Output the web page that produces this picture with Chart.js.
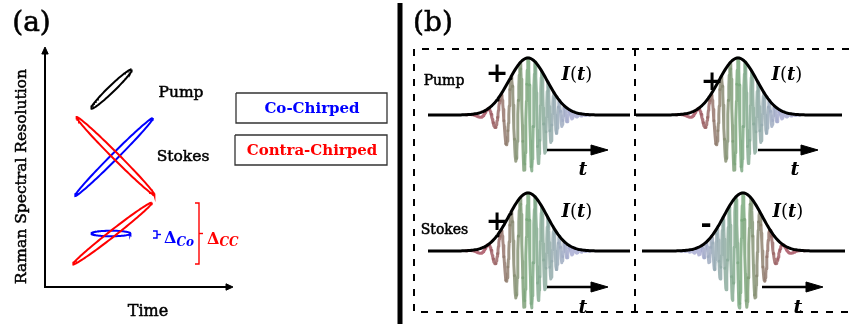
<!DOCTYPE html>
<html>
<head>
<meta charset="utf-8">
<script src="https://cdn.jsdelivr.net/npm/chart.js@4.4.1/dist/chart.umd.min.js"></script>
<style>
  html, body { margin: 0; padding: 0; background: #fff; }
  #wrap { width: 849px; height: 324px; }
</style>
</head>
<body>
<div id="wrap"><canvas id="c" width="849" height="324"></canvas></div>
<script>
// the whole figure lives on one linear x/y plane measured in picture units (0..849 x 0..324)
const W = 849, H = 324;

// --- panel (a): time / frequency ellipses ---
const ellipseNames = ['pump', 'stokesContra', 'stokesCo', 'overlapContra', 'overlapCo'];
const ellipseCx    = [111.5, 115.5, 114.0, 112.5, 111.0];
const ellipseCy    = [89.0, 156.0, 157.0, 233.5, 233.5];
const ellipseA     = [28.0, 55.0, 55.0, 50.0, 19.5];
const ellipseB     = [3.2, 3.2, 3.2, 3.2, 2.8];
const ellipseAngle = [-44, 45, -45, -38, 0];
const ellipseColor = ['#000000', '#ff0000', '#0000ff', '#ff0000', '#0000ff'];

// axis corner of panel (a) and arrow tips
const axisOrigin = [45, 287];
const axisTipY = 47;
const axisTipX = 233;

// brackets marking the spectral widths  [x, top, bottom]
const bracketX      = [157, 199];
const bracketTop    = [231, 203];
const bracketBottom = [238, 264];
const bracketColor  = ['#0000ff', '#ff0000'];

// --- panel (b): chirped pulses ---
const pulseCenter = [528, 738, 528, 743];
const pulseBase   = [115, 115, 251, 251];
const pulseHeight = [57, 57, 58, 58];
const pulseSigma  = [19, 19, 19, 19];
const pulseFrom   = [428, 636, 428, 642];
const pulseTo     = [630, 842, 630, 845];
const pulseChirp  = [1, 1, 1, -1];   // +1 up-chirp, -1 down-chirp
const pulseSign   = ['+', '+', '+', '-'];

// time arrows under each pulse  [start, end, y]
const tArrowFrom = [547, 758, 547, 762];
const tArrowTo   = [608, 818, 608, 823];
const tArrowY    = [150, 150, 287, 287];

// dashed frame
const frameLeft = 414, frameTop = 49, frameBottom = 312, frameMid = 635;
const dividerX = 400;

// ---------- helpers ----------
function ellipsePoints(i) {
  const pts = [];
  const th = ellipseAngle[i] * Math.PI / 180;
  for (let k = 0; k <= 120; k++) {
    const u = k / 120 * Math.PI * 2;
    const ex = ellipseA[i] * Math.cos(u), ey = ellipseB[i] * Math.sin(u);
    pts.push({ x: ellipseCx[i] + ex * Math.cos(th) - ey * Math.sin(th),
               y: ellipseCy[i] + ex * Math.sin(th) + ey * Math.cos(th) });
  }
  return pts;
}

function envelope(i, t) {
  return pulseHeight[i] * Math.exp(-t * t / (2 * pulseSigma[i] * pulseSigma[i]));
}

function gaussPoints(i) {
  const pts = [];
  for (let x = pulseFrom[i]; x <= pulseTo[i]; x += 1) {
    pts.push({ x: x, y: pulseBase[i] - envelope(i, x - pulseCenter[i]) });
  }
  return pts;
}

function wavePoints(i) {
  const pts = [];
  const k0 = 2 * Math.PI / 7.5, c = 0.0053 * pulseChirp[i];
  for (let t = -62; t <= 62; t += 0.4) {
    const ph = k0 * t + c * t * t;
    pts.push({ x: pulseCenter[i] + t, y: pulseBase[i] - envelope(i, t) * Math.cos(ph) });
  }
  return pts;
}

// red (slow) -> green -> blue-grey (fast)
const waveStops = [[168, 82, 98], [122, 170, 124], [168, 172, 210]];
function waveColor(t, chirp) {
  let s = Math.max(-1, Math.min(1, (t * chirp) / 42));
  s = Math.round(s * 20) / 20;
  const a = s < 0 ? waveStops[0] : waveStops[1];
  const b = s < 0 ? waveStops[1] : waveStops[2];
  const f = s < 0 ? s + 1 : s;
  const mix = a.map((v, j) => Math.round(v + (b[j] - v) * f));
  return `rgba(${mix[0]},${mix[1]},${mix[2]},0.85)`;
}

function arrowHead(tx, ty, dx, dy, len, hw) {
  const n = Math.hypot(dx, dy), ux = dx / n, uy = dy / n;
  const bx = tx - ux * len, by = ty - uy * len;
  return [{ x: tx, y: ty }, { x: bx - uy * hw, y: by + ux * hw },
          { x: bx + uy * hw, y: by - ux * hw }, { x: tx, y: ty }];
}

function line(pts, color, width, extra) {
  return Object.assign({ data: pts, showLine: true, borderColor: color, borderWidth: width,
    pointRadius: 0, fill: false, clip: false, tension: 0, order: 1 }, extra || {});
}
function head(pts, color) {
  return line(pts, color, 1, { fill: 'shape', backgroundColor: color, order: 0 });
}

// ---------- datasets ----------
const datasets = [];

// panel (a) axes
datasets.push(line([{ x: axisOrigin[0], y: axisOrigin[1] }, { x: axisOrigin[0], y: axisTipY + 5 }], '#000', 2));
datasets.push(head(arrowHead(axisOrigin[0], axisTipY, 0, -1, 7, 3.2), '#000'));
datasets.push(line([{ x: axisOrigin[0] - 1, y: axisOrigin[1] }, { x: axisTipX - 5, y: axisOrigin[1] }], '#000', 2));
datasets.push(head(arrowHead(axisTipX, axisOrigin[1], 1, 0, 7, 3.2), '#000'));

ellipseNames.forEach((n, i) => datasets.push(line(ellipsePoints(i), ellipseColor[i], 2)));

bracketX.forEach((bx, i) => {
  datasets.push(line([{ x: bx - 4, y: bracketTop[i] }, { x: bx, y: bracketTop[i] },
                      { x: bx, y: bracketBottom[i] }, { x: bx - 4, y: bracketBottom[i] }], bracketColor[i], 1.4));
  const mid = (bracketTop[i] + bracketBottom[i]) / 2;
  datasets.push(line([{ x: bx, y: mid }, { x: bx + 4, y: mid }], bracketColor[i], 1.4));
});

// legend boxes
const boxLeft = [236, 235], boxRight = [387, 387], boxTop = [93, 135], boxBottom = [123, 165];
boxLeft.forEach((l, i) => datasets.push(line([{ x: l, y: boxTop[i] }, { x: boxRight[i], y: boxTop[i] },
  { x: boxRight[i], y: boxBottom[i] }, { x: l, y: boxBottom[i] }, { x: l, y: boxTop[i] }], '#333', 1.3)));

// divider
datasets.push(line([{ x: dividerX, y: 3 }, { x: dividerX, y: H }], '#000', 5));

// dashed frame
const dash = { borderDash: [7, 8] };
datasets.push(line([{ x: W, y: frameTop }, { x: frameLeft, y: frameTop }, { x: frameLeft, y: frameBottom }, { x: W, y: frameBottom }], '#000', 2, dash));
datasets.push(line([{ x: frameMid, y: frameTop }, { x: frameMid, y: frameBottom }], '#000', 2, dash));

// pulses
pulseCenter.forEach((x0, i) => {
  datasets.push(line(wavePoints(i), 'rgba(0,0,0,0)', 3, {
    order: 3, borderCapStyle: 'round', borderJoinStyle: 'round',
    segment: { borderColor: c => waveColor((c.p0.parsed.x + c.p1.parsed.x) / 2 - x0, pulseChirp[i]) }
  }));
  datasets.push(line(gaussPoints(i), '#000', 3, { order: 1, borderJoinStyle: 'round' }));
  datasets.push(line([{ x: tArrowFrom[i], y: tArrowY[i] }, { x: tArrowTo[i] - 12, y: tArrowY[i] }], '#000', 2.5));
  datasets.push(head(arrowHead(tArrowTo[i], tArrowY[i], 1, 0, 17, 5), '#000'));
});

// ---------- text ----------
const SERIF = '"DejaVu Serif", "Liberation Serif", serif';
const f = (size, style) => `${style || ''} ${size}px ${SERIF}`.trim();

const signX = [497, 712, 497, 706], signY = [82, 90, 230, 233];
const itX = [577, 787, 577, 788], itY = [80, 80, 217, 217];
const tX = [583, 795, 583, 798], tY = [175, 175, 313, 313];

// heavy: a thin outline to get the weight of the original's text
const labels = [
  { x: 31.5, y: 31, heavy: 0.6, runs: [{ text: '(a)', font: f(28) }] },
  { x: 433, y: 31, heavy: 0.6, runs: [{ text: '(b)', font: f(28) }] },
  { x: 181, y: 97, heavy: 0.5, runs: [{ text: 'Pump', font: f(15.5) }] },
  { x: 183, y: 161, heavy: 0.5, runs: [{ text: 'Stokes', font: f(15.5) }] },
  { x: 148, y: 316, heavy: 0.5, runs: [{ text: 'Time', font: f(16) }] },
  { x: 26, y: 176.5, rot: -90, heavy: 0.5, runs: [{ text: 'Raman Spectral Resolution', font: f(15.5) }] },
  { x: 312, y: 113, color: '#0000ff', runs: [{ text: 'Co-Chirped', font: f(15, 'bold') }] },
  { x: 312, y: 155, color: '#ff0000', runs: [{ text: 'Contra-Chirped', font: f(15, 'bold') }] },
  { x: 164, y: 243, align: 'left', color: '#0000ff',
    runs: [{ text: 'Δ', font: f(16, 'bold') }, { text: 'Co', font: f(12, 'italic bold'), dy: 2.5 }] },
  { x: 207, y: 243.5, align: 'left', color: '#ff0000',
    runs: [{ text: 'Δ', font: f(16, 'bold') }, { text: 'CC', font: f(12, 'italic bold'), dy: 2.5 }] },
  { x: 444, y: 85, heavy: 0.5, runs: [{ text: 'Pump', font: f(14) }] },
  { x: 444.5, y: 234, heavy: 0.5, runs: [{ text: 'Stokes', font: f(14) }] }
];
pulseSign.forEach((s, i) => {
  labels.push({ x: signX[i], y: signY[i], runs: [{ text: s, font: f(27, 'bold') }] });
  labels.push({ x: itX[i], y: itY[i], runs: [{ text: 'I', font: f(18, 'italic bold') }, { text: '(', font: f(18) },
    { text: 't', font: f(18, 'italic bold') }, { text: ')', font: f(18) }] });
  labels.push({ x: tX[i], y: tY[i], runs: [{ text: 't', font: f(19, 'italic bold') }] });
});

const labelPlugin = {
  id: 'labels',
  afterDatasetsDraw(chart) {
    const { ctx, scales: { x, y } } = chart;
    labels.forEach(l => {
      ctx.save();
      ctx.translate(x.getPixelForValue(l.x), y.getPixelForValue(l.y));
      if (l.rot) ctx.rotate(l.rot * Math.PI / 180);
      ctx.textBaseline = 'alphabetic';
      ctx.textAlign = 'left';
      let total = 0;
      l.runs.forEach(r => { ctx.font = r.font; r.w = ctx.measureText(r.text).width; total += r.w; });
      let cx = l.align === 'left' ? 0 : -total / 2;
      l.runs.forEach(r => {
        ctx.font = r.font;
        ctx.fillStyle = ctx.strokeStyle = r.color || l.color || '#000';
        ctx.fillText(r.text, cx, r.dy || 0);
        if (l.heavy) { ctx.lineWidth = l.heavy; ctx.strokeText(r.text, cx, r.dy || 0); }
        cx += r.w;
      });
      ctx.restore();
    });
  }
};

new Chart(document.getElementById('c'), {
  type: 'scatter',
  data: { datasets },
  options: {
    responsive: false,
    animation: false,
    events: [],
    layout: { padding: 0 },
    plugins: { legend: { display: false }, tooltip: { enabled: false } },
    scales: {
      x: { type: 'linear', min: 0, max: W, display: false },
      y: { type: 'linear', min: 0, max: H, reverse: true, display: false }
    }
  },
  plugins: [labelPlugin]
});
</script>
</body>
</html>
